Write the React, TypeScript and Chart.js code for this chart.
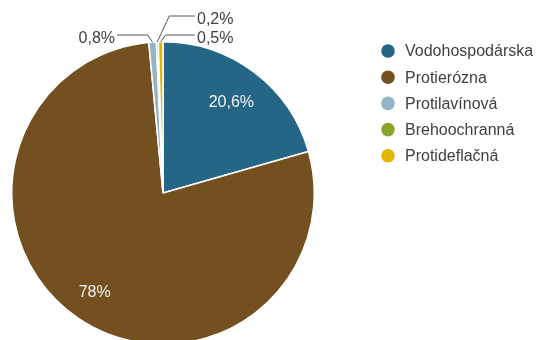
import React, { useEffect, useRef } from "react";
import { Chart, registerables } from "chart.js";

Chart.register(...registerables);

const categories = ["Vodohospodárska", "Protierózna", "Protilavínová", "Brehoochranná", "Protideflačná"];
const values = [20.6, 78, 0.8, 0.2, 0.5];
const valueLabels = ["20,6%", "78%", "0,8%", "0,2%", "0,5%"];
const colors = ["#256687", "#744f1f", "#93b4c6", "#8aa628", "#e3b600"];

const FONT = "Arial, 'Liberation Sans', Helvetica, sans-serif";

const labelPlugin = {
  id: "sliceLabels",
  afterDatasetsDraw(chart: any) {
    const ctx = chart.ctx;
    const meta = chart.getDatasetMeta(0);
    ctx.save();
    ctx.font = `16px ${FONT}`;
    // inside labels
    const insideRatio = [0.75, 0.8];
    [0, 1].forEach((i) => {
      const arc = meta.data[i];
      const mid = (arc.startAngle + arc.endAngle) / 2;
      const r = arc.outerRadius * insideRatio[i];
      ctx.fillStyle = "#f2f2f2";
      ctx.textAlign = "center";
      ctx.textBaseline = "middle";
      ctx.fillText(valueLabels[i], arc.x + Math.cos(mid) * r, arc.y + Math.sin(mid) * r);
    });
    // outside labels with leader lines
    const outside = [
      { i: 2, elbowDx: -5, elbowY: 35, endX: 117, side: "left" },
      { i: 3, elbowDx: 12, elbowY: 16, endX: 195, side: "right" },
      { i: 4, elbowDx: 5, elbowY: 35, endX: 195, side: "right" },
    ];
    outside.forEach((o) => {
      const arc = meta.data[o.i];
      const mid = (arc.startAngle + arc.endAngle) / 2;
      const px = arc.x + Math.cos(mid) * arc.outerRadius;
      const py = arc.y + Math.sin(mid) * arc.outerRadius;
      const ex = px + o.elbowDx;
      ctx.strokeStyle = "#555555";
      ctx.lineWidth = 1;
      ctx.beginPath();
      ctx.moveTo(px, py);
      ctx.lineTo(ex, o.elbowY);
      ctx.lineTo(o.endX, o.elbowY);
      ctx.stroke();
      ctx.fillStyle = "#404040";
      ctx.textBaseline = "middle";
      if (o.side === "left") {
        ctx.textAlign = "right";
        ctx.fillText(valueLabels[o.i], o.endX - 2, o.elbowY + 4);
      } else {
        ctx.textAlign = "left";
        ctx.fillText(valueLabels[o.i], o.endX + 2, o.elbowY + 4);
      }
    });
    // legend
    const lx = 388;
    const ly0 = 51;
    const step = 26.2;
    categories.forEach((c, i) => {
      const y = ly0 + i * step;
      ctx.fillStyle = colors[i];
      ctx.beginPath();
      ctx.arc(lx, y, 6.8, 0, Math.PI * 2);
      ctx.fill();
      ctx.fillStyle = "#404040";
      ctx.textAlign = "left";
      ctx.textBaseline = "middle";
      ctx.fillText(c, 405, y + 1);
    });
    ctx.restore();
  },
};

export default function App() {
  const ref = useRef<HTMLCanvasElement>(null);
  useEffect(() => {
    if (!ref.current) return;
    const chart = new Chart(ref.current, {
      type: "pie",
      data: {
        labels: categories,
        datasets: [
          {
            data: values,
            backgroundColor: colors,
            borderColor: "#ffffff",
            borderWidth: 1.5,
          },
        ],
      },
      options: {
        responsive: false,
        animation: false,
        layout: { padding: { left: 11, right: 224, top: 41, bottom: 0 } },
        plugins: {
          legend: { display: false },
          tooltip: { enabled: false },
        },
      },
      plugins: [labelPlugin],
    });
    return () => chart.destroy();
  }, []);
  return (
    <div style={{ position: "absolute", left: 0, top: 0, width: 539, height: 340, overflow: "hidden", background: "#fff" }}>
      <canvas ref={ref} width={539} height={345} style={{ width: 539, height: 345, display: "block" }} />
    </div>
  );
}
